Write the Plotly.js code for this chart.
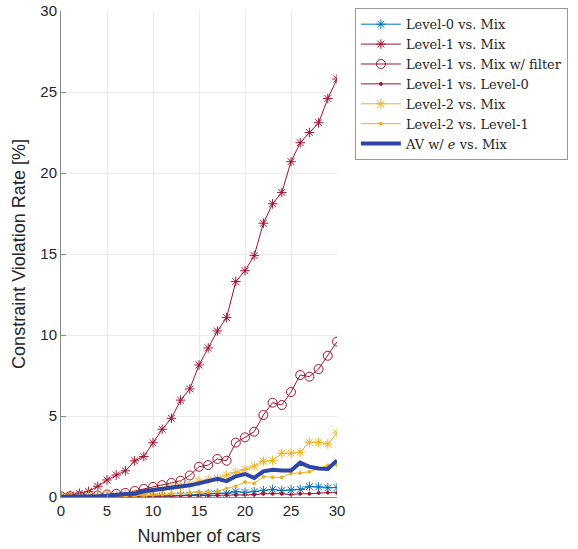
<!DOCTYPE html>
<html>
<head>
<meta charset="utf-8">
<script src="https://cdn.plot.ly/plotly-3.0.1.min.js"></script>
<style>html,body{margin:0;padding:0;background:#fff;}#chart{width:578px;height:549px;}</style>
</head>
<body>
<div id="chart"></div>
<script>
var cars = [0,1,2,3,4,5,6,7,8,9,10,11,12,13,14,15,16,17,18,19,20,21,22,23,24,25,26,27,28,29,30];

var level0VsMix = [0,0,0,0,0,0,0,0,0.02,0.03,0.04,0.05,0.06,0.1,0.12,0.16,0.2,0.23,0.23,0.33,0.28,0.33,0.39,0.47,0.4,0.43,0.47,0.64,0.62,0.56,0.58];
var level1VsMix = [0,0.1,0.23,0.35,0.66,1.05,1.36,1.62,2.23,2.5,3.35,4.18,4.86,5.98,6.67,8.15,9.2,10.25,11.07,13.3,13.97,14.9,16.9,18.1,18.8,20.7,21.87,22.5,23.1,24.6,25.8];
var level1VsMixFilter = [0.05,0.05,0.06,0.1,0.1,0.15,0.2,0.25,0.37,0.5,0.62,0.73,0.87,1.0,1.33,1.87,1.97,2.35,2.24,3.36,3.68,4.03,5.06,5.82,5.68,6.48,7.53,7.43,7.9,8.72,9.59];
var level1VsLevel0 = [0,0,0,0,0,0,0.02,0.02,0.03,0.04,0.05,0.06,0.07,0.08,0.09,0.1,0.1,0.11,0.12,0.13,0.15,0.14,0.2,0.2,0.2,0.15,0.2,0.2,0.25,0.27,0.27];
var level2VsMix = [0.05,0.05,0.05,0.1,0.15,0.15,0.1,0.15,0.15,0.2,0.33,0.43,0.6,0.66,0.78,0.98,1.07,1.15,1.35,1.52,1.7,1.91,2.2,2.26,2.7,2.7,2.76,3.38,3.38,3.27,3.95];
var level2VsLevel1 = [0,0,0,0,0.02,0.03,0.05,0.05,0.08,0.1,0.12,0.15,0.2,0.22,0.25,0.3,0.3,0.35,0.53,0.66,0.92,0.84,1.25,1.21,1.21,1.46,1.48,1.56,1.77,1.95,1.97];
var avVsMix = [0,0,0,0,0.05,0.08,0.15,0.18,0.2,0.35,0.43,0.5,0.53,0.64,0.72,0.84,0.95,1.12,0.98,1.28,1.42,1.18,1.58,1.68,1.64,1.63,2.12,1.87,1.76,1.73,2.26];

var seriesNames = ['Level-0 vs. Mix','Level-1 vs. Mix','Level-1 vs. Mix w/ filter','Level-1 vs. Level-0','Level-2 vs. Mix','Level-2 vs. Level-1','AV w/ <i>e</i> vs. Mix'];

var cBlue = '#0072BD', cRed = '#A2142F', cYellow = '#EDB120', cAV = '#2D46A5';

var traces = [
  {y: level0VsMix, color: cBlue, symbol: 'asterisk-open', size: 8, width: 1},
  {y: level1VsMix, color: cRed, symbol: 'asterisk-open', size: 8, width: 1},
  {y: level1VsMixFilter, color: cRed, symbol: 'circle-open', size: 9, width: 1},
  {y: level1VsLevel0, color: cRed, symbol: 'circle', size: 3, width: 1},
  {y: level2VsMix, color: cYellow, symbol: 'asterisk-open', size: 8, width: 1},
  {y: level2VsLevel1, color: cYellow, symbol: 'circle', size: 3, width: 1},
  {y: avVsMix, color: cAV, symbol: null, size: 0, width: 4}
].map(function(s, i){
  var t = {
    x: cars, y: s.y, name: seriesNames[i], type: 'scatter',
    mode: s.symbol ? 'lines+markers' : 'lines',
    line: {color: s.color, width: s.width}
  };
  if (s.symbol) t.marker = {symbol: s.symbol, size: s.size, color: s.color, line: {color: s.color, width: 1}};
  return t;
});

var layout = {
  width: 578, height: 549,
  margin: {l: 61, r: 241, t: 11, b: 52},
  paper_bgcolor: '#fff', plot_bgcolor: '#fff',
  font: {family: 'Liberation Sans, Arial, sans-serif', color: '#262626'},
  showlegend: true,
  legend: {
    xref: 'container', yref: 'container',
    x: 0.614, y: 0.985, xanchor: 'left', yanchor: 'top',
    bgcolor: '#fff', bordercolor: '#999', borderwidth: 1,
    itemwidth: 40,
    font: {family: 'DejaVu Serif, Liberation Serif, serif', size: 13, color: '#262626'},
    tracegroupgap: 0
  },
  xaxis: {
    range: [0, 30], tickvals: [0,5,10,15,20,25,30],
    ticks: 'inside', ticklen: 5, tickcolor: '#888',
    showline: true, linecolor: '#888', linewidth: 1,
    showgrid: true, gridcolor: '#ebebeb', zeroline: false,
    tickfont: {size: 15, color: '#262626'},
    title: {text: 'Number of cars', font: {size: 18, color: '#262626'}, standoff: 11}
  },
  yaxis: {
    range: [0, 30], tickvals: [0,5,10,15,20,25,30],
    ticks: 'inside', ticklen: 5, tickcolor: '#888',
    showline: true, linecolor: '#888', linewidth: 1,
    showgrid: true, gridcolor: '#ebebeb', zeroline: false,
    tickfont: {size: 15, color: '#262626'},
    title: {text: 'Constraint Violation Rate [%]', font: {size: 18, color: '#262626'}, standoff: 10}
  }
};

Plotly.newPlot('chart', traces, layout, {displayModeBar: false, staticPlot: true});
</script>
</body>
</html>
